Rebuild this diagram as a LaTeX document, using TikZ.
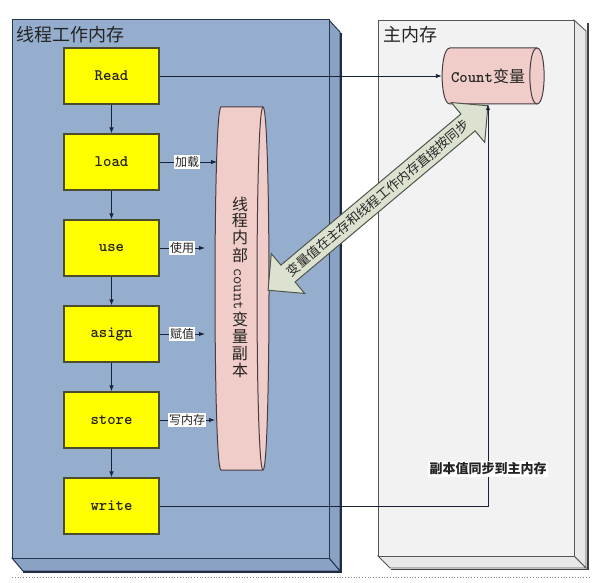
\documentclass[tikz,border=0pt]{standalone}
\usepackage{fontspec}
\setmainfont{Liberation Serif}
\newfontfamily\cjk{Noto Sans CJK SC}
\usetikzlibrary{arrows.meta}
\definecolor{panelblue}{RGB}{150,174,206}
\definecolor{panelside}{RGB}{138,162,196}
\definecolor{paneledge}{RGB}{40,55,80}
\definecolor{mainfill}{RGB}{242,242,242}
\definecolor{mainside}{RGB}{232,232,232}
\definecolor{mainedge}{RGB}{85,85,85}
\definecolor{boxyellow}{RGB}{255,255,0}
\definecolor{boxedge}{RGB}{75,75,45}
\definecolor{pinkfill}{RGB}{240,205,200}
\definecolor{pinkedge}{RGB}{70,60,70}
\definecolor{arrowfill}{RGB}{220,226,208}
\definecolor{arrowedge}{RGB}{80,85,75}
\definecolor{linecol}{RGB}{25,35,55}
\definecolor{txt}{RGB}{35,35,35}
\newcommand\vch[1]{\makebox[17pt]{\rotatebox[origin=c]{90}{#1}}}
\begin{document}
\begin{tikzpicture}[x=1pt,y=-1pt,
  ybox/.style={draw=boxedge,fill=boxyellow,line width=1.2pt,minimum width=95pt,minimum height=56pt,inner sep=0pt,
    font=\ttfamily\bfseries\fontsize{16}{16}\selectfont,text=txt},
  conn/.style={draw=linecol,line width=0.9pt,-{Latex[length=6pt,width=4.5pt]}},
  plain/.style={draw=linecol,line width=0.9pt},
  lab/.style={fill=white,inner sep=1pt,font=\cjk\fontsize{12}{12}\selectfont,text=txt},
  panel/.style={draw=paneledge,line width=1pt,fill=panelblue},
  mpanel/.style={draw=mainedge,line width=0.9pt,fill=mainfill}]
\useasboundingbox (0,0) rectangle (610,583);
\fill[white] (0,0) rectangle (610,583);
% left panel (3D)
\filldraw[panel,fill=panelside] (329,20) -- (340,32) -- (340,571) -- (329,558) -- cycle;
\filldraw[panel,fill=panelside] (12,558) -- (329,558) -- (340,571) -- (23,571) -- cycle;
\filldraw[panel] (12,20) rectangle (329,558);
\draw[paneledge!80!black,line width=1.6pt] (23,572) -- (341,572) -- (341,33);
% main panel (3D)
\filldraw[mpanel,fill=mainside] (574,20) -- (586,31) -- (586,568) -- (574,556) -- cycle;
\filldraw[mpanel,fill=mainside] (378,556) -- (574,556) -- (586,568) -- (390,568) -- cycle;
\filldraw[mpanel] (378,20) rectangle (574,556);
\draw[black!75,line width=1.8pt] (391,569.5) -- (588,569.5) -- (588,23);
% bottom dotted rule
\draw[black!45,dotted,line width=0.8pt] (12,577) -- (590,577);
% titles
\node[anchor=west,inner sep=0pt,font=\cjk\fontsize{18}{18}\selectfont,text=txt] (t1) at (16,35) {线程工作内存};
\node[anchor=west,inner sep=0pt,font=\cjk\fontsize{18}{18}\selectfont,text=txt] (t2) at (383,35) {主内存};
% yellow boxes
\node[ybox] (read) at (111.5,76) {Read};
\node[ybox] (load) at (111.5,162) {load};
\node[ybox] (use) at (111.5,248) {use};
\node[ybox] (asign) at (111.5,334) {asign};
\node[ybox] (store) at (111.5,420) {store};
\node[ybox] (write) at (111.5,506) {write};
\draw[conn] (read) -- (load);
\draw[conn] (load) -- (use);
\draw[conn] (use) -- (asign);
\draw[conn] (asign) -- (store);
\draw[conn] (store) -- (write);
% pink copy cylinder
\filldraw[fill=pinkfill,draw=pinkedge,line width=1pt]
  (221,107) -- (263,107) .. controls (271,107) and (271,470) .. (263,470) -- (221,470)
  .. controls (213,470) and (213,107) .. (221,107) -- cycle;
\draw[pinkedge,line width=1pt] (263,107) .. controls (255,107) and (255,470) .. (263,470);
\node[rotate=-90,inner sep=0pt,font=\cjk\fontsize{16}{16}\selectfont,text=txt] (copy) at (240,287)
  {\vch{线}\vch{程}\vch{内}\vch{部}\hspace{5pt}{\ttfamily count}\hspace{1pt}\vch{变}\vch{量}\vch{副}\vch{本}};
\coordinate (pk1) at (217,162);
\coordinate (pk2) at (205,248);
\coordinate (pk3) at (205,334);
\coordinate (pk4) at (215,420);
% labels to copy
\node[lab] (l1) at (187,162) {加载};
\node[lab] (l2) at (182,248) {使用};
\node[lab] (l3) at (182,334) {赋值};
\node[lab] (l4) at (187,420) {写内存};
\draw[plain] (load.east) -- (l1.west);
\draw[conn] (l1.east) -- (pk1);
\draw[plain] (use.east) -- (l2.west);
\draw[conn] (l2.east) -- (pk2);
\draw[plain] (asign.east) -- (l3.west);
\draw[conn] (l3.east) -- (pk3);
\draw[plain] (store.east) -- (l4.west);
\draw[conn] (l4.east) -- (pk4);
% Count cylinder
\filldraw[fill=pinkfill,draw=pinkedge,line width=1pt]
  (450,48) -- (537,48) .. controls (546.5,48) and (546.5,104) .. (537,104) -- (450,104)
  .. controls (439.5,104) and (439.5,48) .. (450,48) -- cycle;
\draw[pinkedge,line width=1pt] (537,48) .. controls (527.5,48) and (527.5,104) .. (537,104);
\node[inner sep=0pt,minimum width=92pt,minimum height=56pt,font=\fontsize{16}{16}\selectfont,text=txt] (cnt) at (488,76)
  {{\ttfamily\bfseries Count}{\cjk 变量}};
% double arrow
\begin{scope}[shift={(378,198)},rotate=40]
\filldraw[fill=arrowfill,draw=arrowedge,line width=1pt]
  (143.5pt,0pt) -- (117.5pt,26pt) -- (117.5pt,11pt) -- (-117.5pt,11pt) -- (-117.5pt,26pt)
  -- (-143.5pt,0pt) -- (-117.5pt,-26pt) -- (-117.5pt,-11pt) -- (117.5pt,-11pt) -- (117.5pt,-26pt) -- cycle;
\end{scope}
\node[rotate=40,inner sep=0pt,font=\cjk\fontsize{13}{13}\selectfont,text=black!85] (sync) at (378,198)
  {变量值在主存和线程工作内存直接按同步};
% connectors to main memory
\draw[conn] (read.east) -- (cnt.west);
\draw[conn] (write.east) -- (write.east -| cnt.south) -- (cnt.south);
\node[lab,font=\cjk\bfseries\fontsize{13}{13}\selectfont,inner sep=1.5pt] (l5) at (488,469) {副本值同步到主内存};
\end{tikzpicture}
\end{document}
